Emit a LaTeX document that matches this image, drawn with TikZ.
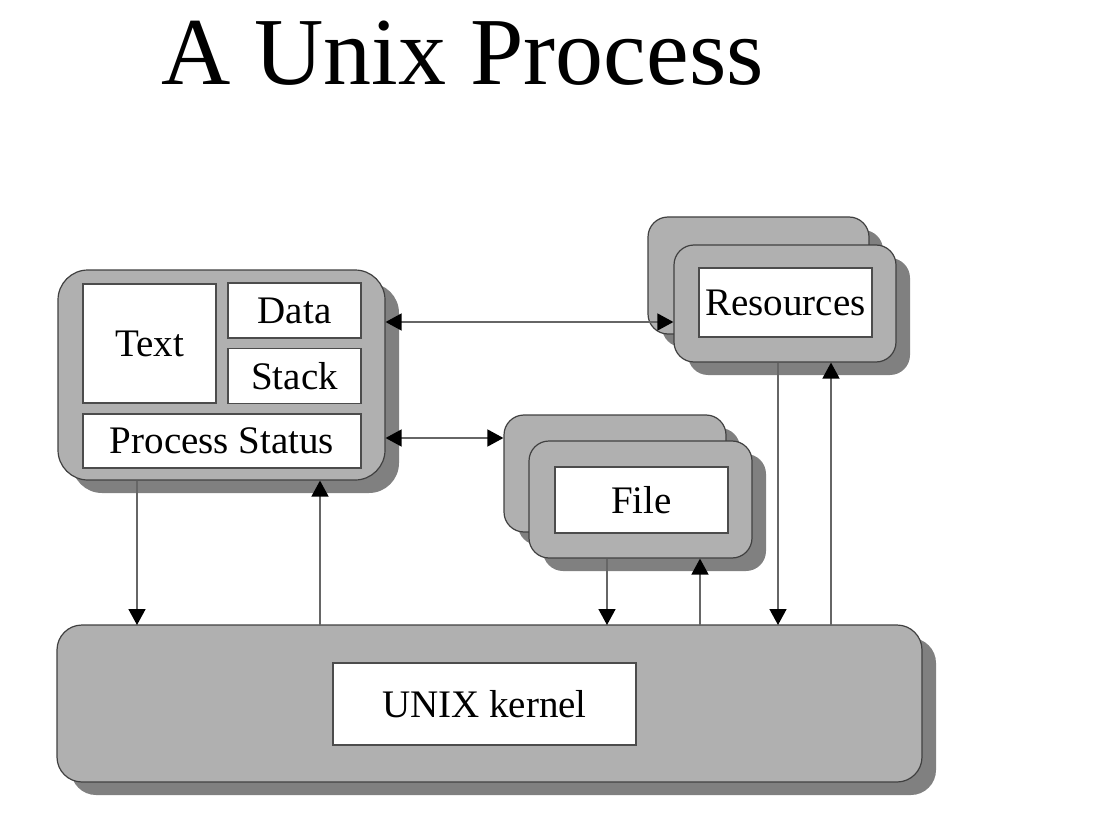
\documentclass[tikz,border=0pt]{standalone}
\usepackage{fontspec}
\setmainfont{Liberation Serif}
\usetikzlibrary{arrows.meta,shadows}

\definecolor{boxgray}{RGB}{176,176,176}
\definecolor{shadowgray}{RGB}{128,128,128}

\tikzset{
	card/.style = {draw = black!75, fill = boxgray, line width = 1.2pt, rounded corners = 20pt, inner sep = 0pt,
		drop shadow = {shadow xshift = 14pt, shadow yshift = -13pt, fill = shadowgray, opacity = 1}},
	field/.style = {draw = black!70, fill = white, line width = 1.2pt, inner sep = 0pt, font = \fontsize{39}{41}\selectfont},
	link/.style = {draw = black!60, line width = 1.6pt, -{Triangle[length = 16pt, width = 17pt, color = black]}},
	twolink/.style = {link, {Triangle[length = 16pt, width = 17pt, color = black]}-{Triangle[length = 16pt, width = 17pt, color = black]}}
}

\begin{document}
\begin{tikzpicture}[x = 1pt, y = -1pt]
	\useasboundingbox (0, 0) rectangle (1096, 832);
	
	\node[anchor = base, font = \fontsize{96}{100}\selectfont] (title) at (462.5, 85) {A Unix Process};
	
	\node[card, rounded corners = 30pt, minimum width = 327pt, minimum height = 210pt] (proc) at (221.5, 375) {};
	\node[field, minimum width = 133pt, minimum height = 119pt] (text) at (149.5, 343.5) {Text};
	\node[field, minimum width = 133pt, minimum height = 55pt] (data) at (294.5, 310.5) {Data};
	\node[field, minimum width = 133pt, minimum height = 55pt] (stack) at (294.5, 376) {Stack};
	\node[field, minimum width = 278pt, minimum height = 54pt] (status) at (222, 441) {Process Status};
	
	\node[card, minimum width = 221pt, minimum height = 117pt] (resback) at (758.5, 275.5) {};
	\node[card, minimum width = 222pt, minimum height = 117pt] (resfront) at (785, 303.5) {};
	\node[field, minimum width = 173pt, minimum height = 69pt] (res) at (785.5, 302.5) {Resources};
	
	\node[card, minimum width = 222pt, minimum height = 117pt] (fileback) at (615, 473.5) {};
	\node[card, minimum width = 223pt, minimum height = 117pt] (filefront) at (640.5, 499.5) {};
	\node[field, minimum width = 173pt, minimum height = 66pt] (file) at (641.5, 500) {File};
	
	\node[card, rounded corners = 25pt, minimum width = 865pt, minimum height = 157pt] (kern) at (489.5, 703.5) {};
	\node[field, minimum width = 303pt, minimum height = 82pt] (kernel) at (484.5, 704) {UNIX kernel};
	
	\coordinate (d) at (0, 322);
	\coordinate (s) at (0, 438);
	\draw[twolink] (proc.east |- d) -- (resfront.west |- d);
	\draw[twolink] (proc.east |- s) -- (fileback.west |- s);
	
	\foreach \x/\n in {137/1, 320/2, 607/3, 700/4, 778/5, 831/6}
	\coordinate (k\n) at (\x, 625);
	\foreach \n/\from in {1/proc, 3/filefront, 5/resfront}
	\draw[link] (\from.south -| k\n) -- (k\n);
	\foreach \n/\to in {2/proc, 4/filefront, 6/resfront}
	\draw[link] (k\n) -- (\to.south -| k\n);
\end{tikzpicture}
\end{document}
